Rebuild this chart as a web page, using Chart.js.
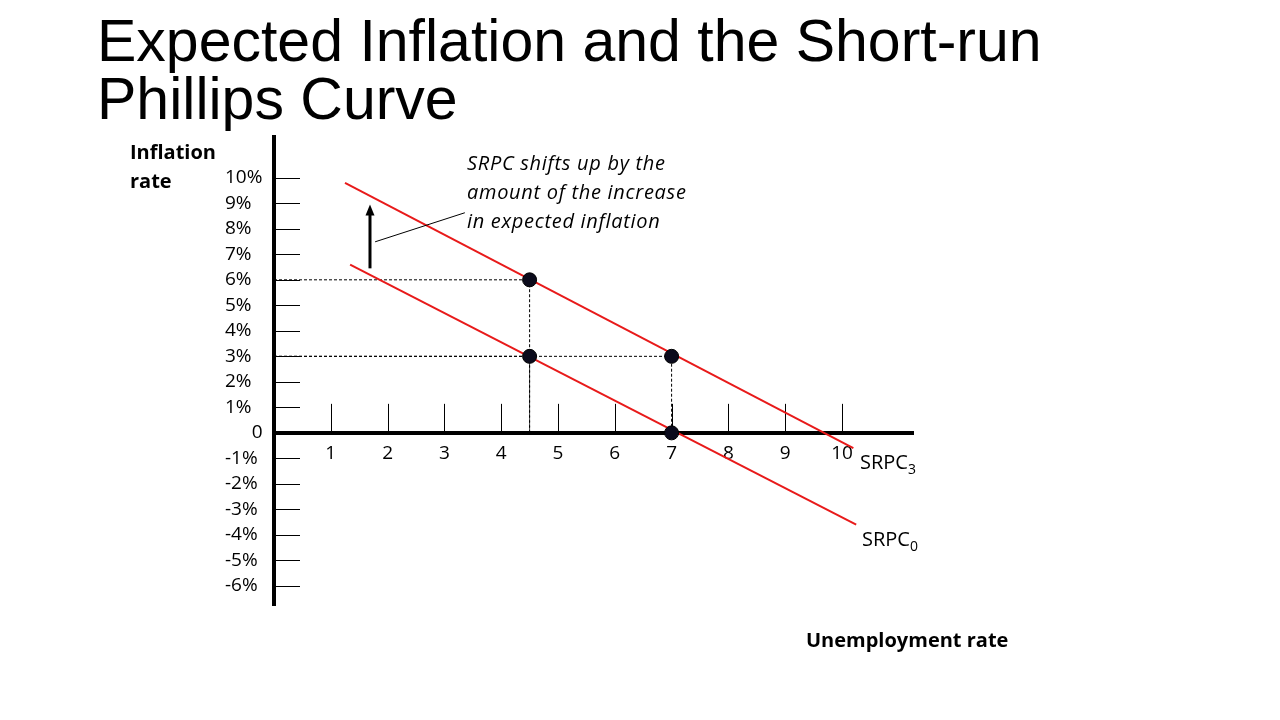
<!DOCTYPE html>
<html>
<head>
<meta charset="utf-8">
<script src="https://cdn.jsdelivr.net/npm/chart.js@4.4.0/dist/chart.umd.min.js"></script>
<style>
body{margin:0;background:#fff;}
#wrap{position:relative;width:1280px;height:720px;overflow:hidden;}
#c{position:absolute;left:0;top:0;}
.t{position:absolute;white-space:nowrap;color:#000;}
#title{left:97px;top:12px;font:59px/58px "Liberation Sans",Arial,sans-serif;}
.b{font:bold 20px/29px "Open Sans",sans-serif;}
.it{font:italic 20px/29px "Open Sans",sans-serif;letter-spacing:0.7px;}
.lab{font:20px/24px "Open Sans",sans-serif;}
.lab sub{font-size:14px;vertical-align:-5px;line-height:0;}
</style>
</head>
<body>
<div id="wrap">
  <canvas id="c" width="1280" height="720"></canvas>
  <div class="t" id="title">Expected Inflation and the Short-run<br>Phillips Curve</div>
  <div class="t b" style="left:130px;top:137px;">Inflation<br>rate</div>
  <div class="t b" style="left:806px;top:625px;">Unemployment rate</div>
  <div class="t it" style="left:467px;top:148px;">SRPC shifts up by the<br>amount of the increase<br>in expected inflation</div>
  <div class="t lab" style="left:860px;top:450px;">SRPC<sub>3</sub></div>
  <div class="t lab" style="left:862px;top:527px;">SRPC<sub>0</sub></div>
</div>
<script>
// axis ticks
var xTicks = [1, 2, 3, 4, 5, 6, 7, 8, 9, 10];
var yTicks = [10, 9, 8, 7, 6, 5, 4, 3, 2, 1, 0, -1, -2, -3, -4, -5, -6];

// short-run phillips curves (end points, unemployment %, inflation %)
var srpc3X = [1.25, 10.2];
var srpc3Y = [9.8, -0.6];
var srpc0X = [1.34, 10.25];
var srpc0Y = [6.6, -3.6];

// equilibrium points
var pointX = [4.5, 4.5, 7, 7];
var pointY = [6, 3, 3, 0];

// the upward shift arrow and the note's leader line
var shiftArrow = { x: 1.69, from: 6.45, to: 8.95 };
var leader = { x: [1.78, 3.36], y: [7.49, 8.63] };

var red = 'rgb(232,26,26)';
var tickFont = { family: 'Open Sans', size: 19 };

function pairs(xs, ys) {
  return xs.map(function(v, i) { return { x: v, y: ys[i] }; });
}

// dashed guides from each raised point to both axes
var guides = [];
pointX.forEach(function(px, i) {
  if (pointY[i] === 0) return;
  guides.push({ x: 0, y: pointY[i] }, { x: px, y: pointY[i] }, { x: px, y: 0 }, { x: NaN, y: NaN });
});

var marks = {
  id: 'marks',
  beforeDatasetsDraw: function(chart) {
    var ctx = chart.ctx, x = chart.scales.x, y = chart.scales.y;
    var x0 = x.getPixelForValue(0), y0 = y.getPixelForValue(0);
    ctx.save();
    ctx.strokeStyle = '#000';
    ctx.lineWidth = 1;
    ctx.beginPath();
    yTicks.forEach(function(v) {
      if (v === 0) return;
      var py = Math.round(y.getPixelForValue(v)) + 0.5;
      ctx.moveTo(x0 + 2, py);
      ctx.lineTo(x0 + 26, py);
    });
    xTicks.forEach(function(v) {
      var px = Math.round(x.getPixelForValue(v)) + 0.5;
      ctx.moveTo(px, y0);
      ctx.lineTo(px, y0 - 29);
    });
    ctx.stroke();
    ctx.restore();
  },
  afterDatasetsDraw: function(chart) {
    var ctx = chart.ctx, x = chart.scales.x, y = chart.scales.y;
    ctx.save();
    // leader line
    ctx.strokeStyle = '#000';
    ctx.lineWidth = 1;
    ctx.beginPath();
    ctx.moveTo(x.getPixelForValue(leader.x[0]), y.getPixelForValue(leader.y[0]));
    ctx.lineTo(x.getPixelForValue(leader.x[1]), y.getPixelForValue(leader.y[1]));
    ctx.stroke();
    // arrow
    var ax = x.getPixelForValue(shiftArrow.x);
    var top = y.getPixelForValue(shiftArrow.to);
    ctx.lineWidth = 3;
    ctx.beginPath();
    ctx.moveTo(ax, y.getPixelForValue(shiftArrow.from));
    ctx.lineTo(ax, top + 8);
    ctx.stroke();
    ctx.fillStyle = '#000';
    ctx.beginPath();
    ctx.moveTo(ax, top);
    ctx.lineTo(ax - 4.5, top + 11);
    ctx.lineTo(ax + 4.5, top + 11);
    ctx.closePath();
    ctx.fill();
    ctx.restore();
  }
};

var ctx = document.getElementById('c').getContext('2d');
new Chart(ctx, {
  type: 'scatter',
  data: {
    datasets: [
      {
        data: pairs(pointX, pointY),
        pointRadius: 7,
        pointBackgroundColor: '#0b0b1c',
        pointBorderColor: '#000',
        pointBorderWidth: 1
      },
      {
        data: pairs(srpc3X, srpc3Y),
        showLine: true, borderColor: red, borderWidth: 2, pointRadius: 0
      },
      {
        data: pairs(srpc0X, srpc0Y),
        showLine: true, borderColor: red, borderWidth: 2, pointRadius: 0
      },
      {
        data: guides,
        showLine: true, spanGaps: false, borderColor: '#000', borderWidth: 1,
        borderDash: [3, 2], pointRadius: 0
      }
    ]
  },
  options: {
    responsive: false,
    animation: false,
    layout: { padding: { left: 225, right: 367, top: 137, bottom: 115 } },
    plugins: { legend: { display: false }, tooltip: { enabled: false } },
    scales: {
      x: {
        type: 'linear', min: 0, max: 11.25,
        position: { y: 0 },
        grid: { display: false },
        border: { display: true, width: 4, color: '#000' },
        afterBuildTicks: function(s) { s.ticks = xTicks.map(function(v) { return { value: v }; }); },
        ticks: { color: '#000', font: tickFont, padding: 1, autoSkip: false, maxRotation: 0 }
      },
      y: {
        type: 'linear', min: -6.75, max: 11.6,
        grid: { display: false },
        border: { display: true, width: 4, color: '#000' },
        afterFit: function(s) { s.width = 49; },
        afterBuildTicks: function(s) { s.ticks = yTicks.map(function(v) { return { value: v }; }); },
        ticks: {
          color: '#000', font: tickFont, crossAlign: 'far', autoSkip: false,
          // the zero label sits next to the axis in the original
          callback: function(v) { return v === 0 ? '\u2007\u2007\u20080' : v + '%'; }
        }
      }
    }
  },
  plugins: [marks]
});
</script>
</body>
</html>
